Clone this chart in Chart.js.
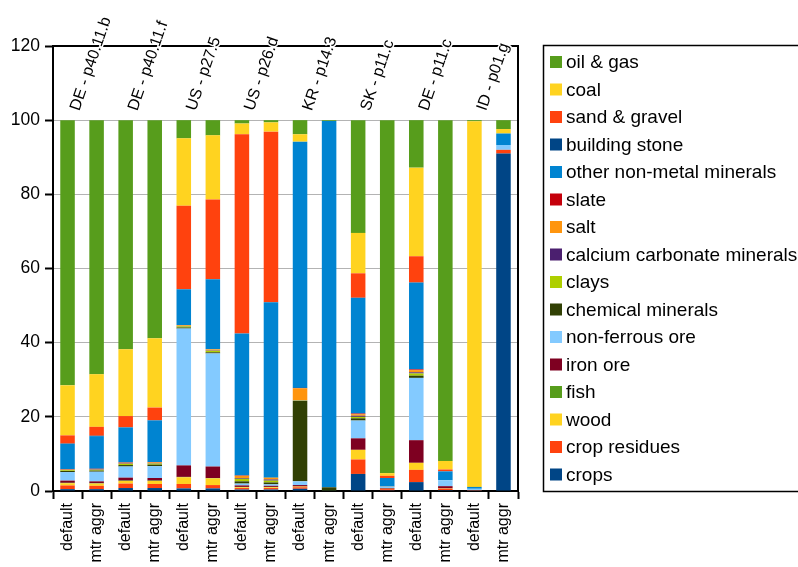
<!DOCTYPE html>
<html>
<head>
<meta charset="utf-8">
<script src="https://cdn.jsdelivr.net/npm/chart.js@4/dist/chart.umd.min.js"></script>
<style>
  html, body { margin: 0; padding: 0; background: #fff; }
  #wrap { width: 798px; height: 567px; }
</style>
</head>
<body>
<div id="wrap"><canvas id="chart" width="798" height="567"></canvas></div>
<script>
// Bars: two methods per process, grouped by process code
const categories = ['default', 'mtr aggr', 'default', 'mtr aggr', 'default', 'mtr aggr', 'default', 'mtr aggr',
                    'default', 'mtr aggr', 'default', 'mtr aggr', 'default', 'mtr aggr', 'default', 'mtr aggr'];
const groups = ['DE - p40.11.b', 'DE - p40.11.f', 'US - p27.5', 'US - p26.d', 'KR - p14.3', 'SK - p11.c', 'DE - p11.c', 'ID - p01.g'];
const yTicks = [0, 20, 40, 60, 80, 100, 120];

// Shares (%) per material, listed from the bottom of each stack upwards
const crops            = [0.5, 0.5, 0.8, 0.8, 0.7, 0.7, 0.4, 0.4, 0.6, 0.1, 4.6, 0.2, 2.4, 0.25, 0.1, 91.0];
const cropResidues     = [1.0, 0.9, 1.2, 1.1, 1.2, 0.9, 0.4, 0.4, 0.4, 0.0, 3.9, 0.3, 3.3, 0.35, 0.1, 1.0];
const wood             = [0.6, 0.6, 0.7, 0.8, 1.8, 1.8, 0.2, 0.2, 0.2, 0.0, 2.6, 0.1, 1.9, 0.1, 0.0, 0.0];
const fish             = [0.1, 0.1, 0.1, 0.1, 0.1, 0.1, 0.1, 0.1, 0.0, 0.0, 0.0, 0.0, 0.0, 0.0, 0.0, 0.0];
const ironOre          = [0.6, 0.5, 0.8, 0.7, 3.1, 3.1, 0.4, 0.3, 0.4, 0.0, 3.1, 0.2, 6.1, 0.6, 0.0, 0.0];
const nonFerrousOre    = [2.3, 2.6, 3.0, 3.2, 36.9, 30.5, 0.5, 0.4, 1.0, 0.0, 4.8, 0.4, 16.8, 1.6, 0.4, 1.3];
const chemicalMinerals = [0.3, 0.3, 0.4, 0.4, 0.3, 0.3, 0.6, 0.5, 21.7, 0.9, 0.6, 0.1, 0.6, 0.0, 0.0, 0.0];
const clays            = [0.2, 0.2, 0.3, 0.3, 0.3, 0.4, 0.7, 0.5, 0.1, 0.0, 0.4, 0.0, 0.6, 0.0, 0.0, 0.0];
const calciumCarbonate = [0.1, 0.1, 0.1, 0.1, 0.1, 0.1, 0.2, 0.3, 0.1, 0.0, 0.3, 0.0, 0.3, 0.0, 0.0, 0.0];
const salt             = [0.1, 0.1, 0.2, 0.2, 0.2, 0.3, 0.6, 0.5, 3.2, 0.0, 0.4, 0.0, 0.6, 0.0, 0.0, 0.0];
const slate            = [0.1, 0.1, 0.1, 0.1, 0.0, 0.0, 0.1, 0.0, 0.1, 0.0, 0.2, 0.0, 0.2, 0.0, 0.0, 0.0];
const otherNonMetal    = [6.8, 8.8, 9.4, 11.2, 9.7, 18.9, 38.3, 47.3, 66.4, 98.8, 31.2, 2.2, 23.4, 2.4, 0.5, 3.1];
const buildingStone    = [0.1, 0.1, 0.1, 0.1, 0.0, 0.0, 0.0, 0.0, 0.0, 0.0, 0.0, 0.0, 0.0, 0.0, 0.0, 0.0];
const sandGravel       = [2.2, 2.4, 3.0, 3.4, 22.5, 21.5, 53.7, 46.0, 0.0, 0.0, 6.6, 0.6, 7.1, 0.5, 0.0, 0.0];
const coal             = [13.5, 14.2, 18.0, 18.7, 18.2, 17.3, 2.9, 2.5, 2.0, 0.0, 10.9, 0.7, 23.9, 2.3, 98.6, 1.2];
const oilGas           = [71.5, 68.5, 61.8, 58.8, 4.9, 4.1, 0.9, 0.6, 3.8, 0.2, 30.4, 95.2, 12.8, 91.9, 0.3, 2.4];

const FONT = "'Liberation Sans', Arial, sans-serif";
Chart.defaults.font.family = FONT;
Chart.defaults.color = '#000';

const series = [
  ['crops', crops, '#004586'],
  ['crop residues', cropResidues, '#ff420e'],
  ['wood', wood, '#ffd320'],
  ['fish', fish, '#579d1c'],
  ['iron ore', ironOre, '#7e0021'],
  ['non-ferrous ore', nonFerrousOre, '#83caff'],
  ['chemical minerals', chemicalMinerals, '#314004'],
  ['clays', clays, '#aecf00'],
  ['calcium carbonate minerals', calciumCarbonate, '#4b1f6f'],
  ['salt', salt, '#ff950e'],
  ['slate', slate, '#c5000b'],
  ['other non-metal minerals', otherNonMetal, '#0084d1'],
  ['building stone', buildingStone, '#004586'],
  ['sand & gravel', sandGravel, '#ff420e'],
  ['coal', coal, '#ffd320'],
  ['oil & gas', oilGas, '#579d1c']
];

// Closes the plot frame and writes the process codes over the top of it
const framePlugin = {
  id: 'frame',
  afterDraw(chart) {
    const { ctx, chartArea: a, scales: { x } } = chart;
    ctx.save();
    ctx.strokeStyle = '#000';
    ctx.lineWidth = 2;
    ctx.beginPath();
    ctx.moveTo(a.left - 1, a.top);
    ctx.lineTo(a.right, a.top);
    ctx.lineTo(a.right, a.bottom);
    ctx.stroke();

    ctx.font = '16px ' + FONT;
    ctx.textAlign = 'left';
    ctx.textBaseline = 'middle';
    groups.forEach((g, i) => {
      const cx = (x.getPixelForValue(2 * i) + x.getPixelForValue(2 * i + 1)) / 2;
      ctx.save();
      ctx.translate(cx - 7, 110);
      ctx.rotate(-71 * Math.PI / 180);
      ctx.strokeStyle = '#fff';
      ctx.lineWidth = 3;
      ctx.lineJoin = 'round';
      ctx.strokeText(g, 0, 0);
      ctx.fillStyle = '#000';
      ctx.fillText(g, 0, 0);
      ctx.restore();
    });
    ctx.restore();
  }
};

// Boxed legend at the right, top of the stack listed first
const boxLegendPlugin = {
  id: 'boxLegend',
  afterDraw(chart) {
    const { ctx } = chart;
    const items = chart.data.datasets.slice().reverse();
    ctx.save();
    ctx.strokeStyle = '#000';
    ctx.lineWidth = 1.5;
    ctx.strokeRect(543.5, 45.5, 270, 446);
    ctx.font = '19px ' + FONT;
    ctx.textAlign = 'left';
    ctx.textBaseline = 'middle';
    items.forEach((d, i) => {
      const y = 62 + i * 27.5;
      ctx.fillStyle = d.backgroundColor;
      ctx.fillRect(550, y - 6, 12, 12);
      ctx.fillStyle = '#000';
      ctx.fillText(d.label, 566, y + 1);
    });
    ctx.restore();
  }
};

new Chart(document.getElementById('chart'), {
  type: 'bar',
  data: {
    labels: categories,
    datasets: series.map(([label, data, color]) => ({
      label, data,
      backgroundColor: color,
      borderWidth: 0,
      barPercentage: 0.5,
      categoryPercentage: 1.0
    }))
  },
  options: {
    responsive: false,
    animation: false,
    devicePixelRatio: 1,
    layout: { padding: { top: 46, right: 280, left: 0, bottom: 0 } },
    plugins: { legend: { display: false }, tooltip: { enabled: false } },
    scales: {
      x: {
        stacked: true,
        offset: true,
        grid: { offset: true, drawOnChartArea: false, drawTicks: true, tickLength: 8, tickColor: '#000', tickWidth: 2 },
        border: { display: true, color: '#000', width: 2 },
        ticks: { autoSkip: false, minRotation: 90, maxRotation: 90, padding: 4, font: { size: 16 }, color: '#000' },
        afterFit(s) { s.height = 76; }
      },
      y: {
        stacked: true,
        min: yTicks[0],
        max: yTicks[yTicks.length - 1],
        afterBuildTicks(s) { s.ticks = yTicks.map(v => ({ value: v })); },
        grid: { color: '#b3b3b3', lineWidth: 1, tickColor: '#000', tickLength: 8, tickWidth: 2 },
        border: { display: true, color: '#000', width: 2 },
        ticks: { padding: 5, font: { size: 17.5 }, color: '#000' },
        afterFit(s) { s.width = 53; }
      }
    }
  },
  plugins: [framePlugin, boxLegendPlugin]
});
</script>
</body>
</html>
